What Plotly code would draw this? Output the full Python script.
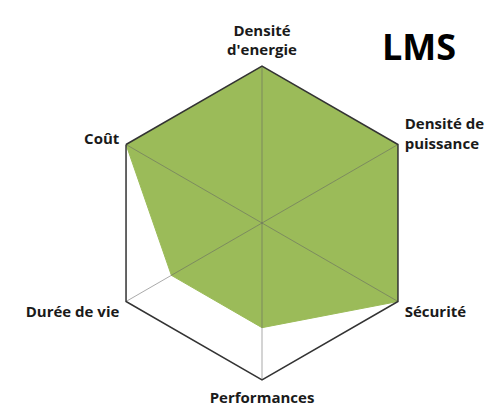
import plotly.graph_objects as go

categories = ["Densité<br>d'energie", "Densité de<br>puissance", "Sécurité", "Performances", "Durée de vie", "Coût"]
values = [3, 3, 3, 2, 2, 3]
r_max = 3

W, H = 493, 410
off = 8  # page body margin
cx, cy, rad = 262 - off, 223 - off, 157

fig = go.Figure()
fig.add_trace(go.Scatterpolar(
    r=values + values[:1],
    theta=categories + categories[:1],
    mode="lines",
    fill="toself",
    fillcolor="#9BBB59",
    line=dict(color="#9BBB59", width=1),
    hoverinfo="skip",
))

# spokes drawn over the fill
spoke_r, spoke_t = [], []
for c in categories:
    spoke_r += [0, r_max, None]
    spoke_t += [c, c, None]
fig.add_trace(go.Scatterpolar(
    r=spoke_r, theta=spoke_t, mode="lines",
    line=dict(color="rgba(100,100,100,0.55)", width=1),
    connectgaps=False, hoverinfo="skip",
))

fig.update_layout(
    width=W, height=H,
    margin=dict(l=0, r=0, t=0, b=0),
    paper_bgcolor="white",
    showlegend=False,
    font=dict(family="Open Sans", size=15, color="#1a1a1a"),
    polar=dict(
        domain=dict(x=[(cx - rad) / W, (cx + rad) / W], y=[(H - cy - rad) / H, (H - cy + rad) / H]),
        bgcolor="white",
        gridshape="linear",
        radialaxis=dict(range=[0, r_max], showgrid=False, showline=False, showticklabels=False, ticks=""),
        angularaxis=dict(
            rotation=90, direction="clockwise",
            showline=True, linecolor="#333333", linewidth=1.5,
            showgrid=False,
            ticks="outside", ticklen=4, tickcolor="rgba(0,0,0,0)",
            tickfont=dict(family="Open Sans", size=15, color="#1a1a1a", weight="bold"),
        ),
    ),
    annotations=[dict(text="<b>LMS</b>", x=(419 - off) / W, y=1 - (47 - off) / H, xref="paper", yref="paper",
                      xanchor="center", yanchor="middle",
                      showarrow=False, font=dict(family="Open Sans", size=36, color="black"))],
)

fig.write_html("out.html")
